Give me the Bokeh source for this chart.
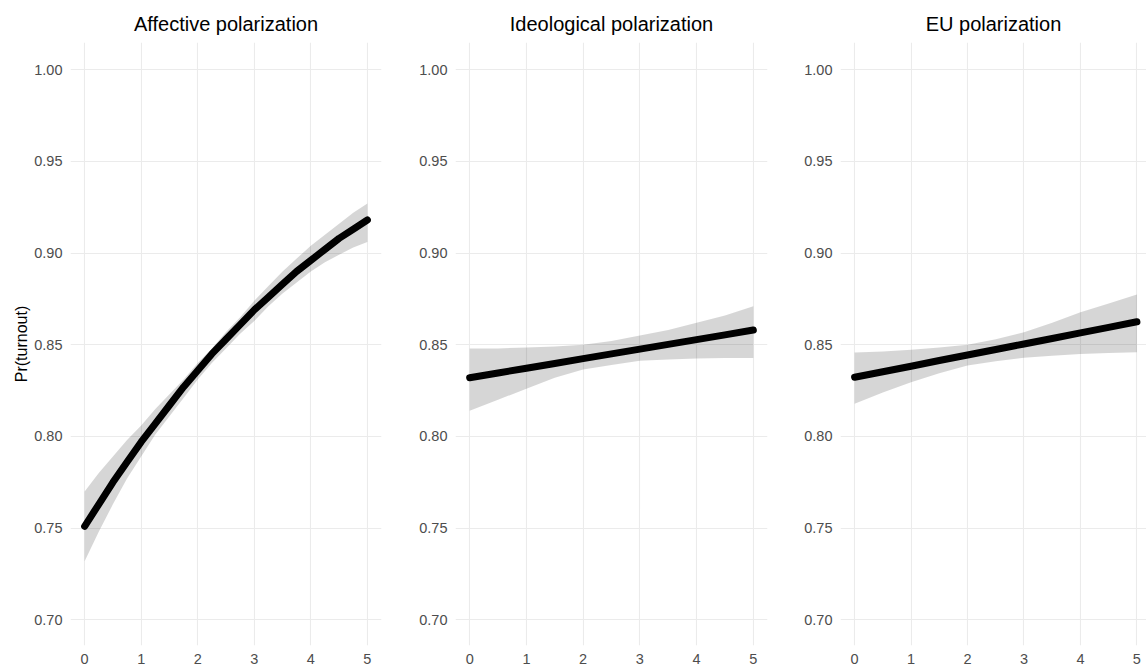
from bokeh.plotting import figure
from bokeh.layouts import row
from bokeh.models import FixedTicker, Range1d, NumeralTickFormatter
from bokeh.embed import file_html
from bokeh.resources import INLINE

# ---- data ----
titles = ["Affective polarization", "Ideological polarization", "EU polarization"]
y_label = "Pr(turnout)"

aff_x = [0, 0.25, 0.5, 0.75, 1, 1.25, 1.5, 1.75, 2, 2.25, 2.5, 2.75, 3, 3.25, 3.5, 3.75, 4, 4.25, 4.5, 4.75, 5]
aff_fit = [0.751, 0.763, 0.775, 0.786, 0.797, 0.807, 0.817, 0.827, 0.836, 0.845, 0.853, 0.861, 0.869,
           0.876, 0.883, 0.890, 0.896, 0.902, 0.908, 0.913, 0.918]
aff_low = [0.732, 0.748, 0.763, 0.777, 0.789, 0.801, 0.811, 0.821, 0.831, 0.840, 0.848, 0.856, 0.863,
           0.871, 0.878, 0.884, 0.890, 0.895, 0.899, 0.903, 0.906]
aff_up = [0.770, 0.780, 0.789, 0.798, 0.806, 0.815, 0.823, 0.831, 0.840, 0.848, 0.857, 0.865, 0.874,
          0.882, 0.890, 0.897, 0.904, 0.910, 0.916, 0.922, 0.927]

x_vals = [0, 0.5, 1, 1.5, 2, 2.5, 3, 3.5, 4, 4.5, 5]
ideo_fit = [0.8320, 0.8346, 0.8372, 0.8398, 0.8424, 0.8450, 0.8476, 0.8502, 0.8528, 0.8554, 0.8580]
ideo_low = [0.814, 0.820, 0.826, 0.832, 0.8365, 0.839, 0.8413, 0.842, 0.8425, 0.8427, 0.8428]
ideo_up = [0.848, 0.848, 0.8485, 0.849, 0.850, 0.852, 0.855, 0.858, 0.862, 0.866, 0.871]

eu_fit = [0.8323, 0.8353, 0.8383, 0.8414, 0.8444, 0.8474, 0.8504, 0.8534, 0.8565, 0.8595, 0.8625]
eu_low = [0.8178, 0.824, 0.8296, 0.8345, 0.8387, 0.841, 0.8429, 0.844, 0.845, 0.8455, 0.8459]
eu_up = [0.8458, 0.8463, 0.8472, 0.8485, 0.850, 0.853, 0.8568, 0.862, 0.8677, 0.8725, 0.8774]

x_ticks = [0, 1, 2, 3, 4, 5]
y_ticks = [0.70, 0.75, 0.80, 0.85, 0.90, 0.95, 1.00]

series = [(aff_x, aff_fit, aff_low, aff_up),
          (x_vals, ideo_fit, ideo_low, ideo_up),
          (x_vals, eu_fit, eu_low, eu_up)]

FONT = "Liberation Sans"
H = 670
# (width, border_left, border_right, x_end)
geoms = [(391, 70, 10, 5.25), (386, 64, 10, 5.25), (369, 63, 0, 5.17)]

figs = []
for i, ((xs, fit, low, up), title, (w, bl, br, xend)) in enumerate(zip(series, titles, geoms)):
    p = figure(width=w, height=H, output_backend="svg", toolbar_location=None,
               x_range=Range1d(-0.25, xend), y_range=Range1d(0.6860, 1.0148),
               min_border_left=bl, min_border_right=br, min_border_top=42,
               min_border_bottom=25, title=title)
    p.outline_line_color = None
    p.background_fill_color = "white"
    p.border_fill_color = "white"
    p.title.text_font = FONT
    p.title.text_font_size = "20px"
    p.title.text_font_style = "normal"
    p.title.text_color = "black"
    p.title.align = "center"
    p.title.standoff = 16

    for ax in (p.xaxis[0], p.yaxis[0]):
        ax.axis_line_color = None
        ax.major_tick_line_color = None
        ax.minor_tick_line_color = None
        ax.major_tick_out = 0
        ax.major_tick_in = 0
        ax.minor_tick_out = 0
        ax.minor_tick_in = 0
        ax.major_label_text_font = FONT
        ax.major_label_text_font_size = "14.5px"
        ax.major_label_text_color = "#4D4D4D"
    p.xaxis[0].ticker = FixedTicker(ticks=x_ticks)
    p.yaxis[0].ticker = FixedTicker(ticks=y_ticks)
    p.yaxis[0].formatter = NumeralTickFormatter(format="0.00")
    p.xaxis[0].major_label_standoff = 8
    p.yaxis[0].major_label_standoff = 8
    if i == 0:
        p.yaxis[0].axis_label = y_label
        p.yaxis[0].axis_label_text_font = FONT
        p.yaxis[0].axis_label_text_font_size = "16px"
        p.yaxis[0].axis_label_text_font_style = "normal"
        p.yaxis[0].axis_label_text_color = "black"
        p.yaxis[0].axis_label_standoff = 1

    p.xgrid.ticker = FixedTicker(ticks=x_ticks)
    p.ygrid.ticker = FixedTicker(ticks=y_ticks)
    for g in (p.xgrid[0], p.ygrid[0]):
        g.grid_line_color = "#EBEBEB"
        g.grid_line_width = 1.1

    p.varea(x=xs, y1=low, y2=up, fill_color="black", fill_alpha=0.16)
    p.line(x=xs, y=fit, line_color="black", line_width=7, line_cap="round", line_join="round")
    figs.append(p)

layout = row(*figs)
open("out.html", "w").write(file_html(layout, INLINE))
